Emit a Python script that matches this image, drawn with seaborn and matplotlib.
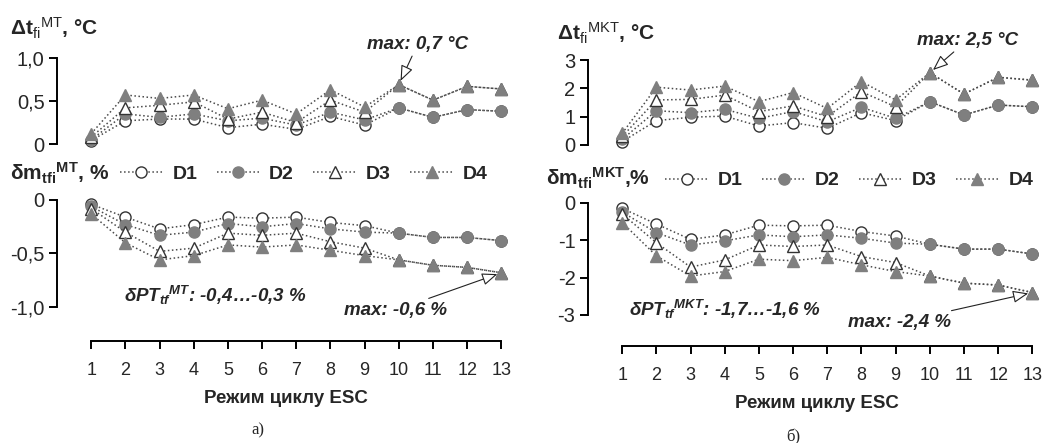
import numpy as np
import pandas as pd
import matplotlib
matplotlib.use("Agg")
import matplotlib.pyplot as plt
import seaborn as sns
from matplotlib.lines import Line2D

# Режими циклу ESC
modes = list(range(1, 14))

# а) МТ: приріст температури, °C
dt_mt_d1 = [0.04, 0.27, 0.29, 0.29, 0.19, 0.23, 0.17, 0.32, 0.22, 0.42, 0.31, 0.40, 0.38]
dt_mt_d2 = [0.05, 0.35, 0.31, 0.35, 0.27, 0.30, 0.22, 0.37, 0.28, 0.42, 0.31, 0.40, 0.38]
dt_mt_d3 = [0.08, 0.42, 0.45, 0.49, 0.29, 0.37, 0.25, 0.51, 0.37, 0.69, 0.51, 0.67, 0.64]
dt_mt_d4 = [0.12, 0.57, 0.53, 0.57, 0.41, 0.51, 0.35, 0.63, 0.43, 0.69, 0.51, 0.67, 0.64]

# а) МТ: зміна витрати палива, %
dm_mt_d1 = [-0.04, -0.16, -0.27, -0.23, -0.16, -0.17, -0.16, -0.21, -0.24, -0.31, -0.35, -0.35, -0.38]
dm_mt_d2 = [-0.06, -0.23, -0.33, -0.30, -0.22, -0.25, -0.22, -0.27, -0.30, -0.31, -0.35, -0.35, -0.38]
dm_mt_d3 = [-0.08, -0.30, -0.48, -0.45, -0.31, -0.33, -0.31, -0.39, -0.45, -0.56, -0.61, -0.63, -0.68]
dm_mt_d4 = [-0.13, -0.40, -0.56, -0.52, -0.42, -0.44, -0.42, -0.47, -0.52, -0.56, -0.61, -0.63, -0.68]

# б) МКТ: приріст температури, °C
dt_mkt_d1 = [0.12, 0.86, 0.98, 1.02, 0.67, 0.79, 0.59, 1.14, 0.86, 1.53, 1.06, 1.41, 1.35]
dt_mkt_d2 = [0.20, 1.21, 1.14, 1.26, 0.94, 1.18, 0.82, 1.33, 0.94, 1.53, 1.06, 1.41, 1.35]
dt_mkt_d3 = [0.30, 1.59, 1.61, 1.76, 1.18, 1.38, 1.00, 1.88, 1.35, 2.55, 1.80, 2.39, 2.29]
dt_mkt_d4 = [0.41, 2.04, 1.94, 2.08, 1.53, 1.85, 1.29, 2.24, 1.59, 2.55, 1.80, 2.39, 2.29]

# б) МКТ: зміна витрати палива, %
dm_mkt_d1 = [-0.15, -0.57, -0.98, -0.86, -0.60, -0.62, -0.60, -0.77, -0.89, -1.11, -1.24, -1.24, -1.37]
dm_mkt_d2 = [-0.25, -0.80, -1.13, -1.02, -0.86, -0.91, -0.86, -0.95, -1.08, -1.11, -1.24, -1.24, -1.37]
dm_mkt_d3 = [-0.30, -1.07, -1.72, -1.53, -1.13, -1.17, -1.13, -1.44, -1.60, -1.96, -2.15, -2.20, -2.40]
dm_mkt_d4 = [-0.53, -1.42, -1.96, -1.84, -1.51, -1.55, -1.46, -1.66, -1.84, -1.96, -2.15, -2.20, -2.40]

series_names = ["D1", "D2", "D3", "D4"]

sns.set_style("white")
plt.rcParams["font.family"] = ["Liberation Sans", "DejaVu Sans"]
plt.rcParams["mathtext.fontset"] = "custom"
plt.rcParams["mathtext.rm"] = "Liberation Sans"
plt.rcParams["mathtext.bf"] = "Liberation Sans:bold"
plt.rcParams["mathtext.it"] = "Liberation Sans:italic:bold"

NARROW = ["Liberation Sans Narrow", "Liberation Sans", "DejaVu Sans"]
GRAY = "#7f7f7f"
LINE = "#4a4a4a"
styles = {
    "D1": dict(marker="o", mfc="white", mec="#333333", ms=8),
    "D2": dict(marker="o", mfc=GRAY, mec=GRAY, ms=8),
    "D3": dict(marker="^", mfc="white", mec="#333333", ms=9),
    "D4": dict(marker="^", mfc=GRAY, mec=GRAY, ms=9),
}

W, H = 1056, 443
fig = plt.figure(figsize=(W / 100, H / 100), dpi=100)


def px_axes(left, top, right, bottom):
    return fig.add_axes([left / W, 1 - bottom / H, (right - left) / W, (bottom - top) / H])


def draw(ax, values):
    for name, vals in zip(series_names, values):
        st = styles[name]
        sns.lineplot(x=modes, y=vals, ax=ax, color=LINE, linestyle=":", lw=1.1,
                     marker=st["marker"], markersize=st["ms"],
                     markerfacecolor=st["mfc"], markeredgecolor=st["mec"],
                     markeredgewidth=1.0, legend=False)


def spine(ax, side, bounds):
    sp = ax.spines[side]
    sp.set_visible(True)
    sp.set_color("black")
    sp.set_linewidth(1.4)
    sp.set_bounds(*bounds)


def style_top(ax, ylim, bounds, ticks, labels):
    ax.set_xlim(0, 13.4)
    ax.set_ylim(*ylim)
    for s in ["top", "right", "bottom"]:
        ax.spines[s].set_visible(False)
    spine(ax, "left", bounds)
    ax.set_xticks([])
    ax.set_yticks(ticks)
    ax.set_yticklabels(labels, fontsize=14.5)
    ax.tick_params(axis="y", left=True, length=6, width=1.4, color="black", direction="out", pad=3)
    ax.set_facecolor("none")


def style_bottom(ax, ylim, bounds, ticks, labels):
    ax.set_xlim(0, 13.4)
    ax.set_ylim(*ylim)
    for s in ["top", "right"]:
        ax.spines[s].set_visible(False)
    spine(ax, "left", bounds)
    spine(ax, "bottom", (1, 13))
    ax.set_yticks(ticks)
    ax.set_yticklabels(labels, fontsize=14.5)
    ax.set_xticks(modes)
    ax.set_xticklabels([str(m) for m in modes], fontsize=13, family=NARROW)
    ax.tick_params(axis="y", left=True, length=6, width=1.4, color="black", direction="out", pad=3)
    ax.tick_params(axis="x", bottom=True, length=6, width=1.4, color="black", direction="out", pad=9)
    ax.set_xlabel("Режим циклу ESC", fontsize=13.5, fontweight="bold", family=NARROW, labelpad=8)
    ax.set_ylabel("")
    ax.set_facecolor("none")


def legend(ax, x, y):
    handles = []
    for name in series_names:
        st = styles[name]
        handles.append(Line2D([], [], color=LINE, linestyle=":", lw=1.1, marker=st["marker"],
                              markersize=st["ms"], markerfacecolor=st["mfc"],
                              markeredgecolor=st["mec"]))
    ax.legend(handles, series_names, loc="lower right", bbox_to_anchor=(x, y), ncol=4,
              frameon=False, handlelength=2.2, columnspacing=1.0, handletextpad=0.5,
              prop={"weight": "bold", "size": 14}, borderaxespad=0)


arrow = dict(arrowstyle="-|>,head_length=0.7,head_width=0.28", facecolor="white",
             edgecolor="#222222", lw=0.8, shrinkA=0, shrinkB=3)
note = dict(fontsize=13.5, fontweight="bold", fontstyle="italic")
label = dict(fontsize=15, fontweight="bold", va="center")

# ---- а) МТ ----
ax_a1 = px_axes(57, 49.4, 515, 148.3)
draw(ax_a1, [dt_mt_d1, dt_mt_d2, dt_mt_d3, dt_mt_d4])
style_top(ax_a1, (-0.05, 1.1), (0, 1.0), [0, 0.5, 1.0], ["0", "0,5", "1,0"])

ax_a2 = px_axes(57, 194.65, 515, 341)
draw(ax_a2, [dm_mt_d1, dm_mt_d2, dm_mt_d3, dm_mt_d4])
style_bottom(ax_a2, (-1.318, 0.05), (-1.0, 0), [-1.0, -0.5, 0], ["-1,0", "-0,5", "0"])
legend(ax_a2, 0.957, 1.025)

ax_a1.annotate("max: 0,7 °C", xy=(10, dt_mt_d4[9]), xytext=(10.55, 1.06),
               ha="center", va="bottom", arrowprops=arrow, **note)
ax_a2.annotate("max: -0,6 %", xy=(13, dm_mt_d4[12]), xytext=(9.9, -1.03),
               ha="center", va="center", arrowprops=arrow, **note)
ax_a2.text(1.95, -0.89, r"$\delta PT_{tf}{}^{MT}$: -0,4…-0,3 %", ha="left", va="center", **note)

fig.text(10 / W, 1 - 28 / H, r"$\mathbf{\Delta t}_{\mathrm{fi}}{}^{\mathrm{MT}}$, °C", **label)
fig.text(10 / W, 1 - 173 / H, r"$\mathbf{\delta m_{tfi}{}^{MT}}$, %", **label)
fig.text(258 / W, 1 - 430 / H, "а)", family=["Liberation Serif"], fontsize=12, ha="center", va="center")

# ---- б) МКТ ----
ax_b1 = px_axes(588, 51.5, 1046, 149.25)
draw(ax_b1, [dt_mkt_d1, dt_mkt_d2, dt_mkt_d3, dt_mkt_d4])
style_top(ax_b1, (-0.15, 3.3), (0, 3), [0, 1, 2, 3], ["0", "1", "2", "3"])

ax_b2 = px_axes(588, 197.1, 1046, 346)
draw(ax_b2, [dm_mkt_d1, dm_mkt_d2, dm_mkt_d3, dm_mkt_d4])
style_bottom(ax_b2, (-3.83, 0.15), (-3, 0), [-3, -2, -1, 0], ["-3", "-2", "-1", "0"])
legend(ax_b2, 0.989, 1.0)

ax_b1.annotate("max: 2,5 °C", xy=(10, dt_mkt_d4[9]), xytext=(11.1, 3.4),
               ha="center", va="bottom", arrowprops=arrow, **note)
ax_b2.annotate("max: -2,4 %", xy=(13, dm_mkt_d4[12]), xytext=(9.1, -3.2),
               ha="center", va="center", arrowprops=arrow, **note)
ax_b2.text(1.2, -2.85, r"$\delta PT_{tf}{}^{MKT}$: -1,7…-1,6 %", ha="left", va="center", **note)

fig.text(557 / W, 1 - 33 / H, r"$\mathbf{\Delta t}_{\mathrm{fi}}{}^{\mathrm{MKT}}$, °C", **label)
fig.text(546 / W, 1 - 178 / H, r"$\mathbf{\delta m_{tfi}{}^{MKT}}$,%", **label)
fig.text(793 / W, 1 - 437 / H, "б)", family=["Liberation Serif"], fontsize=12, ha="center", va="center")

fig.savefig("out.png", dpi=100, facecolor="white")
